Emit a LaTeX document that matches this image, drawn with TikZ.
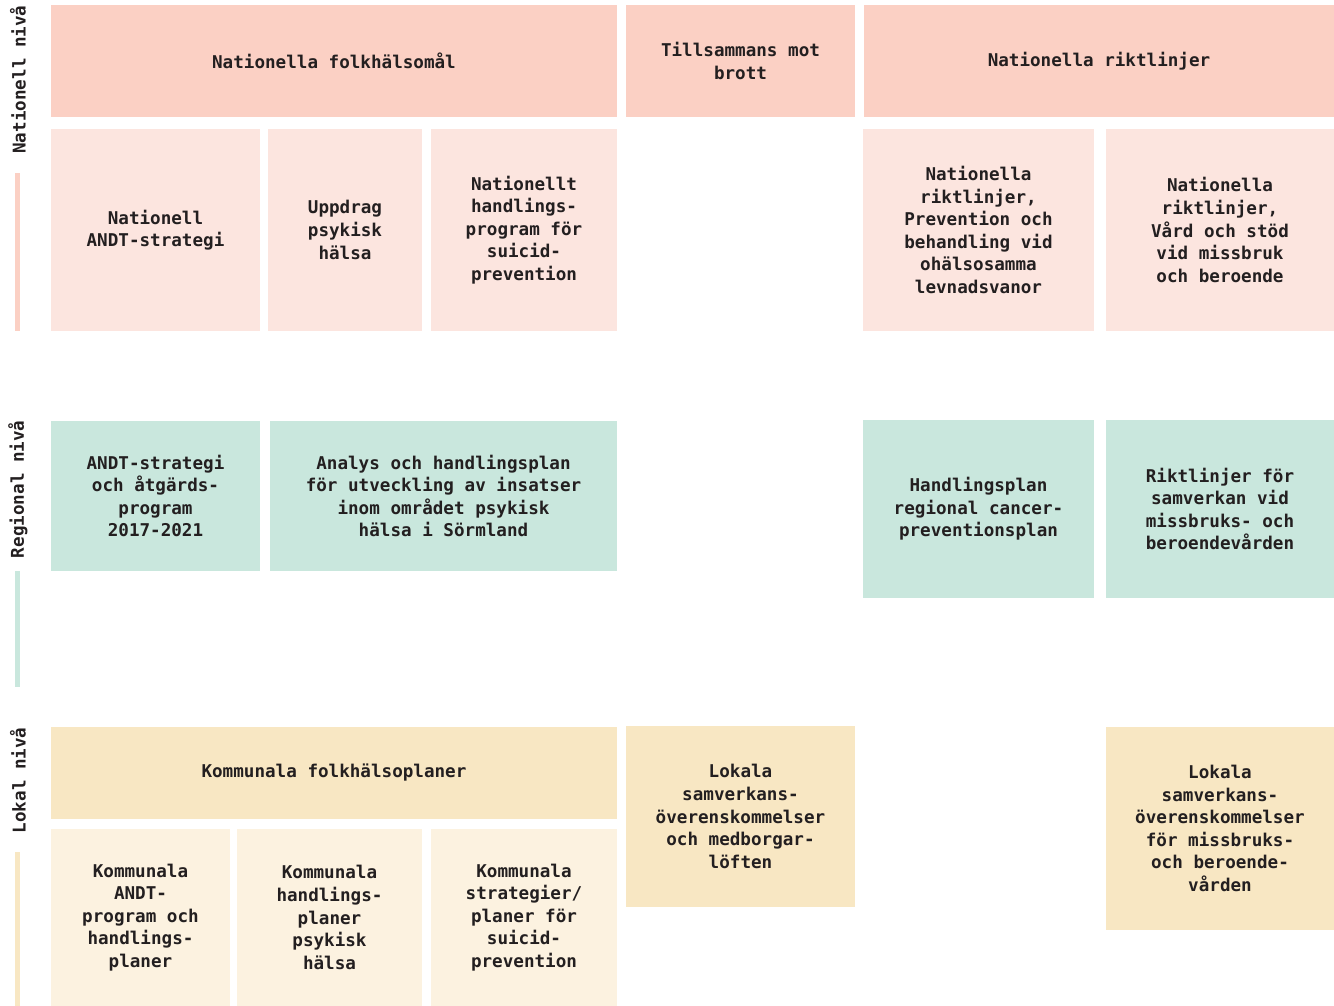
\documentclass[tikz,border=0pt]{standalone}
\usepackage{fontspec}
\setmonofont{DejaVu Sans Mono}
\usetikzlibrary{fit}
\definecolor{ink}{HTML}{231F20}
\definecolor{natA}{HTML}{FBD0C4}
\definecolor{natB}{HTML}{FCE5DF}
\definecolor{regA}{HTML}{C9E7DD}
\definecolor{lokA}{HTML}{F8E7C3}
\definecolor{lokB}{HTML}{FCF2E0}

\begin{document}
\begin{tikzpicture}[x=0.5pt,y=-0.5pt,
    every node/.style={font=\ttfamily\bfseries\fontsize{8.8}{11.3}\selectfont,
        text=ink},
    area/.style={fit={#1}, inner sep=0pt},
    txt/.style={align=center, inner sep=0pt},
    level/.style={rotate=90, anchor=east, inner sep=0pt}]
    \useasboundingbox (0,0) rectangle (1334,1006);

    % side labels
    \node[level] (natlabel) at (18,5) {Nationell nivå};
    \node[level] (reglabel) at (18,420) {Regional nivå};
    \node[level] (loklabel) at (18,727) {Lokal nivå};
    \fill[natA] (15,173) rectangle (20,331);
    \fill[regA] (15,571) rectangle (20,687);
    \fill[lokA] (15,852) rectangle (20,1006);

    % nationell
    \node[area={(51,5) (617,117)}, fill=natA] (folkmal) {};
    \node[area={(626,5) (855,117)}, fill=natA] (brott) {};
    \node[area={(864,5) (1334,117)}, fill=natA] (riktl) {};
    \node[area={(51,129) (260,331)}, fill=natB] (andt) {};
    \node[area={(268,129) (422,331)}, fill=natB] (psyk) {};
    \node[area={(431,129) (617,331)}, fill=natB] (suicid) {};
    \node[area={(863,129) (1094,331)}, fill=natB] (levn) {};
    \node[area={(1106,129) (1334,331)}, fill=natB] (vard) {};
    \node[txt] (folkmaltxt) at (folkmal) {Nationella folkhälsomål};
    \node[txt] (brotttxt) at (brott) {Tillsammans mot\\brott};
    \node[txt] (riktltxt) at (riktl) {Nationella riktlinjer};
    \node[txt] (andttxt) at (andt) {Nationell\\ANDT-strategi};
    \node[txt] (psyktxt) at (psyk) {Uppdrag\\psykisk\\hälsa};
    \node[txt] (suicidtxt) at (suicid) {Nationellt\\handlings-\\program för\\suicid-\\prevention};
    \node[txt] (levntxt) at (levn) {Nationella\\riktlinjer,\\Prevention och\\behandling vid\\ohälsosamma\\levnadsvanor};
    \node[txt] (vardtxt) at (vard) {Nationella\\riktlinjer,\\Vård och stöd\\vid missbruk\\och beroende};

    % regional
    \node[area={(51,421) (260,571)}, fill=regA] (regandt) {};
    \node[area={(270,421) (617,571)}, fill=regA] (analys) {};
    \node[area={(863,420) (1094,598)}, fill=regA] (cancer) {};
    \node[area={(1106,420) (1334,598)}, fill=regA] (samv) {};
    \node[txt] (regandttxt) at (regandt) {ANDT-strategi\\och åtgärds-\\program\\2017-2021};
    \node[txt] (analystxt) at (analys) {Analys och handlingsplan\\för utveckling av insatser\\inom området psykisk\\hälsa i Sörmland};
    \node[txt] (cancertxt) at (cancer) {Handlingsplan\\regional cancer-\\preventionsplan};
    \node[txt] (samvtxt) at (samv) {Riktlinjer för\\samverkan vid\\missbruks- och\\beroendevården};

    % lokal
    \node[area={(51,727) (617,819)}, fill=lokA] (kommfolk) {};
    \node[area={(626,726) (855,907)}, fill=lokA] (medborg) {};
    \node[area={(1106,727) (1334,930)}, fill=lokA] (lokmiss) {};
    \node[area={(51,829) (230,1006)}, fill=lokB] (kommandt) {};
    \node[area={(237,829) (422,1006)}, fill=lokB] (kommpsyk) {};
    \node[area={(431,829) (617,1006)}, fill=lokB] (kommsuic) {};
    \node[txt] (kommfolktxt) at (kommfolk) {Kommunala folkhälsoplaner};
    \node[txt] (medborgtxt) at (medborg) {Lokala\\samverkans-\\överenskommelser\\och medborgar-\\löften};
    \node[txt] (lokmisstxt) at (lokmiss) {Lokala\\samverkans-\\överenskommelser\\för missbruks-\\och beroende-\\vården};
    \node[txt] (kommandttxt) at (kommandt) {Kommunala\\ANDT-\\program och\\handlings-\\planer};
    \node[txt] (kommpsyktxt) at (kommpsyk) {Kommunala\\handlings-\\planer\\psykisk\\hälsa};
    \node[txt] (kommsuictxt) at (kommsuic) {Kommunala\\strategier/\\planer för\\suicid-\\prevention};
\end{tikzpicture}
\end{document}
